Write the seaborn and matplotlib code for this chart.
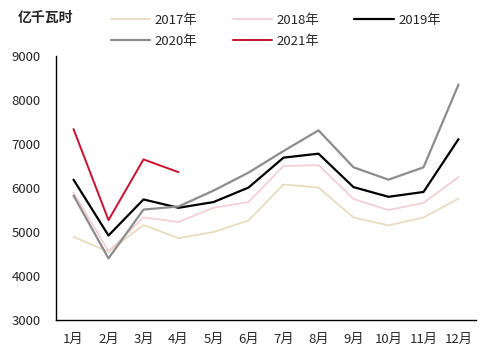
import numpy as np
import matplotlib
matplotlib.use("Agg")
import matplotlib.pyplot as plt
import seaborn as sns
import pandas as pd

# monthly power consumption, 亿千瓦时
months = ["1月", "2月", "3月", "4月", "5月", "6月", "7月", "8月", "9月", "10月", "11月", "12月"]
y2017 = [4890, 4550, 5160, 4860, 5000, 5260, 6080, 6010, 5330, 5150, 5330, 5760]
y2018 = [5900, 4560, 5330, 5230, 5550, 5680, 6500, 6520, 5750, 5500, 5660, 6250]
y2019 = [6190, 4920, 5740, 5550, 5680, 6010, 6690, 6780, 6020, 5800, 5910, 7110]
y2020 = [5830, 4400, 5510, 5580, 5940, 6350, 6840, 7310, 6470, 6190, 6470, 8350]
y2021 = [7340, 5270, 6650, 6360]

years = ["2017年", "2018年", "2019年", "2020年", "2021年"]
colors = ["#E8DCC0", "#F2D0D5", "#000000", "#8C8C8C", "#C8102E"]
widths = [1.3, 1.3, 1.6, 1.6, 1.4]

rows = []
for yr, vals in zip(years, [y2017, y2018, y2019, y2020, y2021]):
    for i, v in enumerate(vals):
        rows.append({"month": i, "year": yr, "value": v})
df = pd.DataFrame(rows)

sns.set_style("white")
plt.rcParams["font.family"] = ["Noto Sans CJK SC", "DejaVu Sans"]

fig = plt.figure(figsize=(5.01, 3.51), dpi=100)
ax = fig.add_axes([56 / 501, 1 - 320 / 351, 420 / 501, 264 / 351])

for yr, c, w in zip(years, colors, widths):
    sub = df[df["year"] == yr]
    sns.lineplot(data=sub, x="month", y="value", color=c, linewidth=w, ax=ax, label=yr)

ax.set_xlim(-0.5, 11.5)
ax.set_ylim(3000, 9000)
ax.set_xticks(range(12))
ax.set_xticklabels(months, fontsize=9.5)
ax.set_xticks(np.arange(-0.5, 12, 1), minor=True)
ax.set_yticks(range(3000, 9001, 1000))
ax.tick_params(axis="y", labelsize=9.5, length=0, pad=11)
ax.tick_params(axis="x", which="major", length=0, pad=9)
ax.tick_params(axis="x", which="minor", direction="in", length=4, width=1, color="black")
ax.set_xlabel("")
ax.set_ylabel("")
for s in ["top", "right"]:
    ax.spines[s].set_visible(False)
for s in ["left", "bottom"]:
    ax.spines[s].set_color("black")
    ax.spines[s].set_linewidth(1)

# legend fills row by row in the reference
handles, labels = ax.get_legend_handles_labels()
order = [0, 3, 1, 4, 2]
ax.legend_.remove()
fig.legend([handles[i] for i in order], [labels[i] for i in order], ncol=3,
           frameon=False, fontsize=9.5,
           loc="upper left", bbox_to_anchor=(99 / 501, 1 - 2 / 351),
           handlelength=3.0, columnspacing=2.7, handletextpad=0.3, labelspacing=0.6)

fig.text(18 / 501, 1 - 18 / 351, "亿千瓦时", fontsize=10, fontweight="bold", va="center")

fig.savefig("out.png", dpi=100)
